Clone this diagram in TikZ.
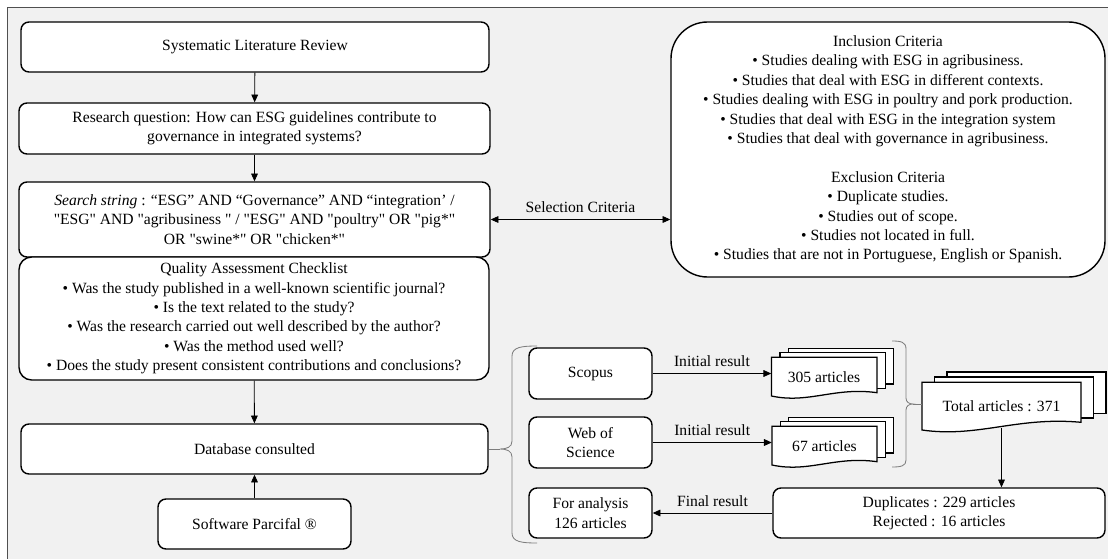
\documentclass[tikz,border=0pt]{standalone}
\usepackage{fontspec}
\setmainfont{Liberation Serif}
\newfontfamily\plainserif{Liberation Serif}
\usetikzlibrary{arrows.meta, positioning, calc}
\definecolor{pagebg}{RGB}{241,241,241}
\definecolor{framegray}{RGB}{80,80,80}
\definecolor{bracegray}{RGB}{125,125,125}
\newcommand{\pxl}{0.025cm}

% stack of documents: left x, top y, width, left height, right height, dx, dy
\newcommand{\docstack}[7]{%
  \foreach \layer in {2,1}{
    \filldraw[docline] ({#1+\layer*#6},{#2-\layer*#7}) rectangle ({#1+#3+\layer*#6},{#2+#5-\layer*4.3});
  }
  \filldraw[docline] (#1,#2) -- ({#1+#3},#2) -- ({#1+#3},{#2+#5})
    .. controls ({#1+0.6*#3},{#2+#5-6}) and ({#1+0.35*#3},{#2+#4+8}) .. (#1,{#2+#4}) -- cycle;
}

\begin{document}
\begin{tikzpicture}[
    x=\pxl, y=-\pxl,
    wh/.style 2 args={minimum width=#1*\pxl, minimum height=#2*\pxl},
    box/.style={rectangle, draw, rounded corners=5.7pt, line width=1pt, fill=white, align=center, inner sep=0pt},
    docline/.style={draw, fill=white, line width=0.9pt},
    doctext/.style={align=center, inner sep=0pt},
    arrow/.style={-{Triangle[length=5.5pt, width=4.8pt]}, line width=0.6pt},
    twoway/.style={{Triangle[length=5.5pt, width=4.8pt]}-{Triangle[length=5.5pt, width=4.8pt]}, line width=0.6pt},
    brace/.style={bracegray, line width=0.6pt},
    label/.style={align=center, inner sep=2pt},
    every node/.append style={font=\plainserif\fontsize{11.1}{13.8}\selectfont}
]

    % Frame
    \useasboundingbox (0,0) rectangle (1108,558);
    \begin{scope}
        \clip (0,0) rectangle (1108,558);
        \draw[framegray, line width=1.4pt, fill=pagebg] (7.5,7.5) rectangle (1125,575);
    \end{scope}

    % Left column
    \node[box, wh={468}{50}] (slr) at (255,47) {Systematic Literature Review};
    \node[box, wh={471}{51}] (rq) at (254.5,128.5) {Research question: How can ESG guidelines contribute to\\ governance in integrated systems?};
    \node[box, wh={471}{75}] (srch) at (254.5,219.5) {\textit{Search string} : “ESG” AND “Governance” AND “integration’ /\\ "ESG" AND "agribusiness " / "ESG" AND "poultry" OR "pig*"\\ OR "swine*" OR "chicken*"};
    \node[box, wh={470}{123}, rounded corners=9pt] (qual) at (254,318.5) {Quality Assessment Checklist\\
        \textbullet{} Was the study published in a well-known scientific journal?\\
        \textbullet{} Is the text related to the study?\\
        \textbullet{} Was the research carried out well described by the author?\\
        \textbullet{} Was the method used well?\\
        \textbullet{} Does the study present consistent contributions and conclusions?};
    \node[box, wh={467}{50}] (db) at (254.5,449) {Database consulted};
    \node[box, wh={193}{50}] (soft) at (254.5,524) {Software Parcifal ®};

    % Criteria
    \node[box, wh={434}{255}, rounded corners=26pt] (incl) at (888,149.5) {Inclusion Criteria\\
        \textbullet{} Studies dealing with ESG in agribusiness.\\
        \textbullet{} Studies that deal with ESG in different contexts.\\
        \textbullet{} Studies dealing with ESG in poultry and pork production.\\
        \textbullet{} Studies that deal with ESG in the integration system\\
        \textbullet{} Studies that deal with governance in agribusiness.\\[13.8pt]
        Exclusion Criteria\\
        \textbullet{} Duplicate studies.\\
        \textbullet{} Studies out of  scope.\\
        \textbullet{} Studies not located in full.\\
        \textbullet{} Studies that are not in Portuguese, English or Spanish.};

    % Databases
    \node[box, wh={123}{51}] (scop) at (590.5,373.5) {Scopus};
    \node[box, wh={123}{51}] (wos) at (590.5,442.5) {Web of\\ Science};
    \node[box, wh={123}{50}] (anl) at (590.5,513) {For analysis\\ 126 articles};
    \node[box, wh={332}{50}] (dup) at (939,513) {Duplicates : 229 articles\\ Rejected : 16 articles};

    % Article stacks
    \docstack{771.5}{357.3}{105.5}{38.7}{35.4}{8.4}{4.5}
    \docstack{772}{426.3}{105}{38.7}{35.4}{8.4}{4.5}
    \docstack{922}{382.3}{159}{47.7}{40}{12.5}{5.2}
    \node[doctext, wh={105}{36}] (n305) at (824,377) {305 articles};
    \node[doctext, wh={105}{36}] (n67) at (824.5,446) {67 articles};
    \node[doctext, wh={159}{43}] (ntotal) at (1001.5,406) {Total articles : 371};

    % Braces
    \coordinate (lbtip) at (500,449);
    \coordinate (rbtip) at (913,404);
    \draw[brace] (537,346) .. controls (522,346) and (512,347) .. (512,356) -- (512,441)
        .. controls (512,447) and (507,449) .. (lbtip)
        .. controls (507,449) and (512,451) .. (512,457) -- (512,533)
        .. controls (512,542) and (522,543) .. (537,543);
    \draw[brace] (892,341) .. controls (901,341) and (906,342) .. (906,349) -- (906,398)
        .. controls (906,402) and (909,404) .. (rbtip)
        .. controls (909,404) and (906,406) .. (906,410) -- (906,460)
        .. controls (906,466) and (901,467) .. (892,467);
    \draw[brace] (db.east) -- (lbtip);
    \draw[brace] (rbtip) -- (rbtip -| ntotal.west);

    % Connections
    \draw[arrow] (slr) -- (rq);
    \draw[arrow] (rq) -- (srch);
    \draw[arrow] (qual) -- (db);
    \draw[arrow] (soft) -- (db);
    \draw[twoway] (srch.east) -- node[label, above=2.5pt] {Selection Criteria} (srch.east -| incl.west);
    \draw[arrow] (scop.east) -- node[label, above=2.5pt] {Initial result} (scop.east -| n305.west);
    \draw[arrow] (wos.east) -- node[label, above=2.5pt] {Initial result} (wos.east -| n67.west);
    \draw[arrow] (ntotal.south) -- (ntotal.south |- dup.north);
    \draw[arrow] (dup.west) -- node[label, above=2.5pt] {Final result} (anl.east);

\end{tikzpicture}
\end{document}
